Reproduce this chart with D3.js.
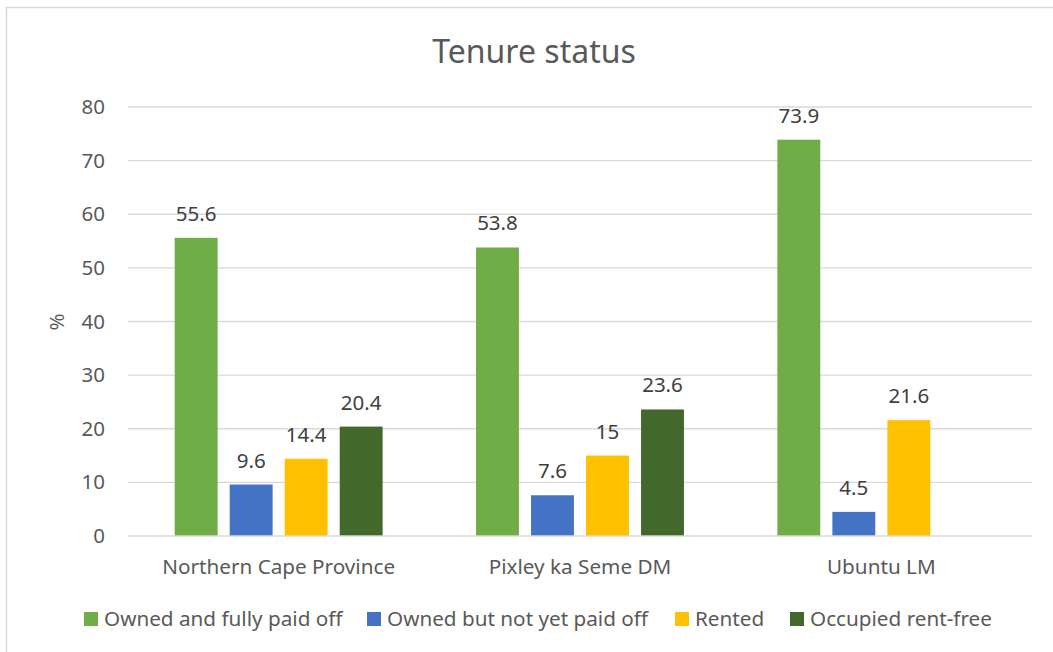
<!DOCTYPE html>
<html>
<head>
<meta charset="utf-8">
<script src="https://cdn.jsdelivr.net/npm/d3@7"></script>
<style>
  body { margin: 0; background: #fff; }
  text { font-family: "Noto Sans", sans-serif; fill: #595959; }
</style>
</head>
<body>
<svg id="chart" width="1053" height="652"></svg>
<script>
// data
var categories = ["Northern Cape Province", "Pixley ka Seme DM", "Ubuntu LM"];
var seriesNames = ["Owned and fully paid off", "Owned but not yet paid off", "Rented", "Occupied rent-free"];
var seriesColors = ["#70AD47", "#4472C4", "#FFC000", "#43682B"];
var ownedPaid = [55.6, 53.8, 73.9];
var ownedNotPaid = [9.6, 7.6, 4.5];
var rented = [14.4, 15, 21.6];
var rentFree = [20.4, 23.6, null];
var yTicks = [0, 10, 20, 30, 40, 50, 60, 70, 80];

var values = [ownedPaid, ownedNotPaid, rented, rentFree];

var svg = d3.select("#chart");

// outer frame (only top and left edges are visible)
svg.append("rect")
    .attr("x", 6.5)
    .attr("y", 7.5)
    .attr("width", 1100)
    .attr("height", 700)
    .attr("fill", "none")
    .attr("stroke", "#D9D9D9")
    .attr("stroke-width", 1.5);

var plotLeft = 128, plotRight = 1032, plotTop = 107, plotBottom = 536;

var y = d3.scaleLinear().domain([0, 80]).range([plotBottom, plotTop]);
var x0 = d3.scaleBand().domain(categories).range([plotLeft, plotRight]);
var groupW = x0.bandwidth() * 0.69;
var x1 = d3.scaleBand().domain(seriesNames)
    .range([(x0.bandwidth() - groupW) / 2, (x0.bandwidth() + groupW) / 2])
    .paddingInner(0.22);

// title
svg.append("text")
    .attr("x", 534)
    .attr("y", 63)
    .attr("text-anchor", "middle")
    .style("font-size", "32px")
    .text("Tenure status");

// gridlines
svg.append("g")
    .selectAll("line")
    .data(yTicks.filter(function(d) { return d > 0; }))
    .enter()
    .append("line")
    .attr("x1", plotLeft)
    .attr("x2", plotRight)
    .attr("y1", function(d) { return y(d); })
    .attr("y2", function(d) { return y(d); })
    .attr("stroke", "#D9D9D9")
    .attr("stroke-width", 1.3);

// y axis
var yAxis = svg.append("g")
    .attr("transform", "translate(" + plotLeft + ",0)")
    .call(d3.axisLeft(y).tickValues(yTicks).tickSize(0).tickPadding(23));
yAxis.select(".domain").remove();
yAxis.selectAll("text")
    .style("font-size", "20.5px")
    .style("font-family", "Noto Sans, sans-serif")
    .attr("fill", "#595959");

svg.append("text")
    .attr("transform", "translate(64,322) rotate(-90)")
    .attr("text-anchor", "middle")
    .style("font-size", "20.5px")
    .text("%");

// bars
var rows = [];
categories.forEach(function(c, i) {
    seriesNames.forEach(function(s, j) {
        if (values[j][i] != null) {
            rows.push({ cat: c, series: s, color: seriesColors[j], value: values[j][i] });
        }
    });
});

var barG = svg.append("g");
barG.selectAll("rect")
    .data(rows)
    .enter()
    .append("rect")
    .attr("x", function(d) { return x0(d.cat) + x1(d.series); })
    .attr("y", function(d) { return y(d.value); })
    .attr("width", x1.bandwidth())
    .attr("height", function(d) { return y(0) - y(d.value); })
    .attr("fill", function(d) { return d.color; });

barG.selectAll("text")
    .data(rows)
    .enter()
    .append("text")
    .attr("x", function(d) { return x0(d.cat) + x1(d.series) + x1.bandwidth() / 2; })
    .attr("y", function(d) { return y(d.value) - 17; })
    .attr("text-anchor", "middle")
    .style("font-size", "20.5px")
    .style("fill", "#404040")
    .text(function(d) { return d.value; });

// baseline
svg.append("line")
    .attr("x1", plotLeft)
    .attr("x2", plotRight)
    .attr("y1", y(0))
    .attr("y2", y(0))
    .attr("stroke", "#D9D9D9")
    .attr("stroke-width", 1.3);

// x axis labels
svg.append("g")
    .selectAll("text")
    .data(categories)
    .enter()
    .append("text")
    .attr("x", function(d) { return x0(d) + x0.bandwidth() / 2; })
    .attr("y", 574)
    .attr("text-anchor", "middle")
    .style("font-size", "20.7px")
    .text(function(d) { return d; });

// legend
var legendX = [84, 367, 675, 790];
var legend = svg.append("g")
    .selectAll("g")
    .data(seriesNames)
    .enter()
    .append("g")
    .attr("transform", function(d, i) { return "translate(" + legendX[i] + ",619)"; });

legend.append("rect")
    .attr("x", 0)
    .attr("y", -7)
    .attr("width", 14)
    .attr("height", 14)
    .attr("fill", function(d, i) { return seriesColors[i]; });

legend.append("text")
    .attr("x", 20)
    .attr("y", 7)
    .style("font-size", "20.7px")
    .text(function(d) { return d; });
</script>
</body>
</html>
